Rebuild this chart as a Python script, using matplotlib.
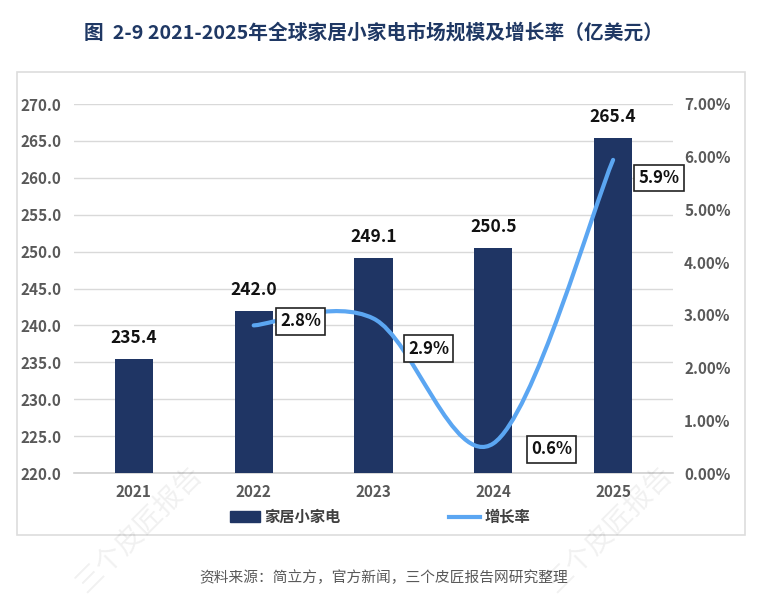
import matplotlib
matplotlib.use("Agg")
import matplotlib.pyplot as plt
from matplotlib.path import Path
from matplotlib.patches import PathPatch, Rectangle
from matplotlib.lines import Line2D
from matplotlib.patches import Patch
from matplotlib.ticker import FuncFormatter, MultipleLocator

plt.rcParams['font.family'] = ['Noto Sans CJK SC', 'DejaVu Sans']

# ---- data ----
years = ["2021", "2022", "2023", "2024", "2025"]
market_size = [235.4, 242.0, 249.1, 250.5, 265.4]
growth_years = ["2022", "2023", "2024", "2025"]
growth_rate = [2.80, 2.93, 0.56, 5.94]  # percent
growth_labels = ["2.8%", "2.9%", "0.6%", "5.9%"]
bar_name = "家居小家电"
line_name = "增长率"
title = "图  2-9 2021-2025年全球家居小家电市场规模及增长率（亿美元）"
source = "资料来源：简立方，官方新闻，三个皮匠报告网研究整理"
watermark = "三个皮匠报告"

# ---- styles ----
BAR_C = "#1F3564"
LINE_C = "#5BA6F2"
GRID_C = "#D9D9D9"
TICK_C = "#595959"
label_offsets = [(47, 4), (55, -30), (58, -6), (46, -18)]  # pixels

W, H = 772, 606
fig = plt.figure(figsize=(W / 100, H / 100), dpi=100)

# outer chart border
fig.patches.append(Rectangle((17 / W, 1 - 535 / H), (745 - 17) / W, (535 - 72) / H,
                             transform=fig.transFigure, fill=False,
                             edgecolor="#DDDDDD", linewidth=1.2, zorder=0))

ax = fig.add_axes([74 / W, 1 - 473 / H, (673 - 74) / W, (473 - 104) / H])
x = list(range(len(years)))
ax.bar(x, market_size, width=0.32, color=BAR_C, zorder=3)
ax.set_xlim(-0.5, len(years) - 0.5)
ax.set_ylim(220, 270)
ax.yaxis.set_major_locator(MultipleLocator(5))
ax.yaxis.set_major_formatter(FuncFormatter(lambda v, p: f"{v:.1f}"))
ax.grid(axis="y", color=GRID_C, linewidth=1, zorder=0)
ax.set_axisbelow(True)
for s in ["top", "right", "left"]:
    ax.spines[s].set_visible(False)
ax.spines["bottom"].set_color("#D0D0D0")
ax.spines["bottom"].set_linewidth(1.2)
ax.set_xticks(x)
ax.set_xticklabels(years)
ax.tick_params(axis="both", length=0, labelsize=11, colors=TICK_C)
ax.tick_params(axis="y", pad=9)
ax.tick_params(axis="x", pad=8)
for lab in ax.get_xticklabels() + ax.get_yticklabels():
    lab.set_fontweight("bold")

for xi, v in zip(x, market_size):
    ax.annotate(f"{v:.1f}", (xi, v), xytext=(0, 12), textcoords="offset pixels",
                ha="center", va="bottom", fontsize=12.5, fontweight="bold",
                color="#111111", zorder=5)

ax2 = ax.twinx()
ax2.set_ylim(0, 7)
ax2.yaxis.set_major_locator(MultipleLocator(1))
ax2.yaxis.set_major_formatter(FuncFormatter(lambda v, p: f"{v:.2f}%"))
for s in ["top", "right", "left", "bottom"]:
    ax2.spines[s].set_visible(False)
ax2.tick_params(axis="y", length=0, labelsize=11, colors=TICK_C, pad=8)
for lab in ax2.get_yticklabels():
    lab.set_fontweight("bold")

# smooth (Catmull-Rom / Excel-like) bezier line through growth points
gx = [years.index(y) for y in growth_years]
pts = list(zip(gx, growth_rate))
n = len(pts)
verts = [pts[0]]
codes = [Path.MOVETO]
for i in range(n - 1):
    p0 = pts[i - 1] if i > 0 else pts[i]
    p1 = pts[i]
    p2 = pts[i + 1]
    p3 = pts[i + 2] if i + 2 < n else pts[i + 1]
    c1 = (p1[0] + (p2[0] - p0[0]) / 6, p1[1] + (p2[1] - p0[1]) / 6)
    c2 = (p2[0] - (p3[0] - p1[0]) / 6, p2[1] - (p3[1] - p1[1]) / 6)
    verts += [c1, c2, p2]
    codes += [Path.CURVE4] * 3
ax2.add_patch(PathPatch(Path(verts, codes), fill=False, edgecolor=LINE_C,
                        linewidth=3, capstyle="round", zorder=4))

for (px, py), lab, off in zip(pts, growth_labels, label_offsets):
    ax2.annotate(lab, (px, py), xytext=off, textcoords="offset pixels",
                 ha="center", va="center", fontsize=12, fontweight="bold",
                 color="#111111", zorder=6,
                 bbox=dict(boxstyle="square,pad=0.25", facecolor="white",
                           edgecolor="#222222", linewidth=1.2))

handles = [Patch(facecolor=BAR_C, edgecolor=BAR_C),
           Line2D([0], [0], color=LINE_C, linewidth=3)]
leg = fig.legend(handles, [bar_name, line_name], loc="center",
                 bbox_to_anchor=(380 / W, 1 - 517 / H), ncol=2, frameon=False,
                 columnspacing=7.1, handlelength=2.0, handletextpad=0.3,
                 prop=dict(size=11, weight="bold"))
for t in leg.get_texts():
    t.set_color("#404040")

fig.text(374 / W, 1 - 33 / H, title, ha="center", va="center", fontsize=14.2,
         fontweight="bold", color="#1F3864")
fig.text(384 / W, 1 - 578 / H, source, ha="center", va="center", fontsize=10.6,
         color="#595959")

for wx, wy in [(140, 530), (610, 530)]:
    fig.text(wx / W, 1 - wy / H, watermark, ha="center", va="center",
             fontsize=20, rotation=45, color="#000000", alpha=0.06, zorder=10)

fig.savefig("out.png", dpi=100)
